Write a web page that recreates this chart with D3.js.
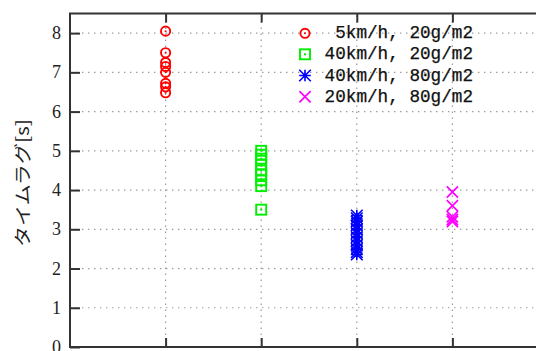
<!DOCTYPE html>
<html>
<head>
<meta charset="utf-8">
<script src="https://cdn.jsdelivr.net/npm/d3@7"></script>
<style>
  html, body { margin: 0; padding: 0; background: #fff; }
  svg { display: block; }
</style>
</head>
<body>
<svg id="chart" width="536" height="351"></svg>
<script>
// Time lag measurements per wind speed / dust condition
const categories = [1, 2, 3, 4];
const seriesLabels = ["5km/h, 20g/m2", "40km/h, 20g/m2", "40km/h, 80g/m2", "20km/h, 80g/m2"];
const seriesColors = ["#ff0000", "#00ee00", "#0000ff", "#ff00ff"];
const seriesShapes = ["circle", "square", "star", "cross"];
const lag5kmh20g = [8.05, 7.5, 7.25, 7.15, 7.0, 6.72, 6.63, 6.48];
const lag40kmh20g = [5.0, 4.9, 4.8, 4.65, 4.5, 4.4, 4.25, 4.1, 3.5];
const lag40kmh80g = [3.35, 3.28, 3.2, 3.1, 3.0, 2.9, 2.8, 2.7, 2.6, 2.5, 2.42, 2.36];
const lag20kmh80g = [3.95, 3.6, 3.32, 3.25, 3.2];
const yTicks = [0, 1, 2, 3, 4, 5, 6, 7, 8];
const yLabel = "タイムラグ[s]";

const seriesValues = [lag5kmh20g, lag40kmh20g, lag40kmh80g, lag20kmh80g];

const svg = d3.select("#chart");
const x = d3.scaleLinear().domain([0, 5]).range([70, 548]);
const y = d3.scaleLinear().domain([0, 8.5]).range([347, 13.5]);

const gridColor = "#9a9a9a";
const axisColor = "#333";

// dotted grid
const grid = svg.append("g");
grid.selectAll("line.h").data(yTicks.filter(d => d > 0)).join("line")
  .attr("x1", x(0)).attr("x2", 536)
  .attr("y1", d => y(d)).attr("y2", d => y(d))
  .attr("stroke", gridColor).attr("stroke-width", 1.2)
  .attr("stroke-dasharray", "1.4,4.6");
grid.selectAll("line.v").data(categories).join("line")
  .attr("x1", d => x(d)).attr("x2", d => x(d))
  .attr("y1", y(0)).attr("y2", y(8.5))
  .attr("stroke", gridColor).attr("stroke-width", 1.2)
  .attr("stroke-dasharray", "1.4,4.6");

// left axis with inward ticks
const yAxis = d3.axisRight(y).tickValues(yTicks).tickSize(10).tickFormat("");
const ya = svg.append("g").attr("transform", `translate(${x(0)},0)`).call(yAxis);
ya.select(".domain").remove();
ya.selectAll("line").attr("stroke", axisColor).attr("stroke-width", 2);

svg.append("g").selectAll("text").data(yTicks).join("text")
  .attr("x", 61).attr("y", d => y(d))
  .attr("text-anchor", "end").attr("dominant-baseline", "central")
  .style("font-family", "'Liberation Serif', 'DejaVu Serif', serif").attr("font-size", 18)
  .attr("fill", "#222")
  .text(d => d);

// top and bottom category ticks
const xTop = d3.axisBottom(x).tickValues(categories).tickSize(9).tickFormat("");
const xt = svg.append("g").attr("transform", `translate(0,${y(8.5)})`).call(xTop);
xt.select(".domain").remove();
xt.selectAll("line").attr("stroke", axisColor).attr("stroke-width", 2);
const xBottom = d3.axisTop(x).tickValues(categories).tickSize(9).tickFormat("");
const xb = svg.append("g").attr("transform", `translate(0,${y(0)})`).call(xBottom);
xb.select(".domain").remove();
xb.selectAll("line").attr("stroke", axisColor).attr("stroke-width", 2);

// border
svg.append("path")
  .attr("d", `M536,${y(8.5)}H${x(0)}V${y(0)}H536`)
  .attr("fill", "none").attr("stroke", axisColor).attr("stroke-width", 2);

// point glyphs
function drawMarker(g, shape, color) {
  if (shape === "circle") {
    g.append("circle").attr("r", 4.6).attr("fill", "none").attr("stroke", color).attr("stroke-width", 1.9);
    g.append("circle").attr("r", 1).attr("fill", color);
  } else if (shape === "square") {
    const r = 5;
    g.append("rect").attr("x", -r).attr("y", -r).attr("width", 2 * r).attr("height", 2 * r)
      .attr("fill", "none").attr("stroke", color).attr("stroke-width", 1.9);
    g.append("rect").attr("x", -1).attr("y", -1).attr("width", 2).attr("height", 2).attr("fill", color);
  } else if (shape === "star") {
    const s = 5.8;
    g.append("path").attr("d", `M${-s},0H${s}M0,${-s}V${s}M${-s},${-s}L${s},${s}M${-s},${s}L${s},${-s}`)
      .attr("stroke", color).attr("stroke-width", 1.6).attr("fill", "none");
  } else {
    const s = 5.6;
    g.append("path").attr("d", `M${-s},${-s}L${s},${s}M${-s},${s}L${s},${-s}`)
      .attr("stroke", color).attr("stroke-width", 1.7).attr("fill", "none");
  }
}

seriesValues.forEach((vals, i) => {
  const g = svg.append("g");
  vals.forEach(v => {
    const m = g.append("g").attr("transform", `translate(${x(categories[i])},${y(v)})`);
    drawMarker(m, seriesShapes[i], seriesColors[i]);
  });
});

// legend
const legendY = [33.3, 54.3, 75.5, 96.7];
seriesLabels.forEach((lab, i) => {
  const m = svg.append("g").attr("transform", `translate(305,${legendY[i]})`);
  drawMarker(m, seriesShapes[i], seriesColors[i]);
  svg.append("text")
    .attr("x", 473).attr("y", legendY[i])
    .attr("text-anchor", "end").attr("dominant-baseline", "central")
    .style("font-family", "'Liberation Mono', monospace").attr("font-size", 17.5)
    .attr("fill", "#111").attr("stroke", "#111").attr("stroke-width", 0.25)
    .attr("textLength", lab.length * 10.6).attr("lengthAdjust", "spacingAndGlyphs")
    .text(lab);
});

// y axis title
svg.append("text")
  .attr("transform", "translate(21,183) rotate(-90)")
  .attr("text-anchor", "middle").attr("dominant-baseline", "central")
  .style("font-family", "'Noto Sans CJK JP', sans-serif").attr("font-size", 17)
  .attr("fill", "#222")
  .attr("textLength", 128).attr("lengthAdjust", "spacingAndGlyphs")
  .text(yLabel);
</script>
</body>
</html>
